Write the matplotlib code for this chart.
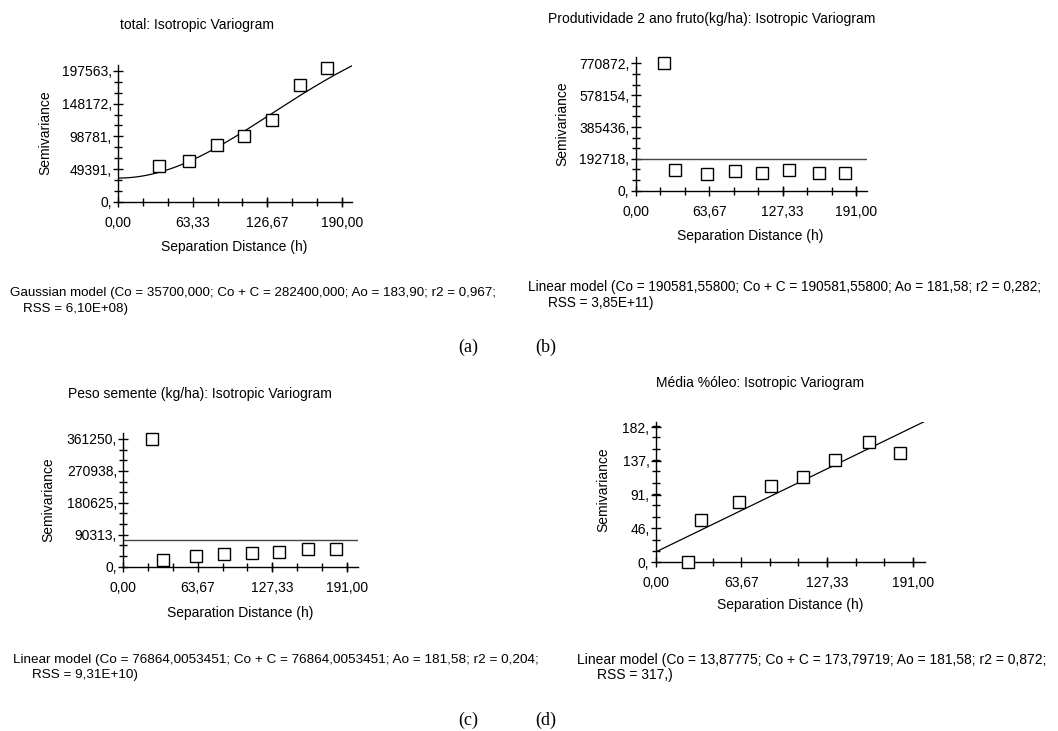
import numpy as np
import matplotlib
matplotlib.use("Agg")
import matplotlib.pyplot as plt
from matplotlib.ticker import FixedLocator, MultipleLocator

plt.rcParams['font.family'] = ['Liberation Sans', 'DejaVu Sans']

# (a) total
a_h = [34.6, 60.2, 84.2, 107.2, 130.3, 154.2, 177.0]
a_g = [54000, 61700, 86400, 99400, 123000, 176600, 202200]
a_yticks = [0, 49391, 98781, 148172, 197563]
a_xticks = [0, 63.33, 126.67, 190.0]
a_co, a_sill, a_range = 35700.0, 282400.0, 183.90

# (b) Produtividade
b_h = [24.6, 34.4, 62.1, 86.4, 109.8, 133.2, 158.6, 181.8]
b_g = [770872, 125100, 100900, 117000, 109000, 125100, 109000, 109000]
b_yticks = [0, 192718, 385436, 578154, 770872]
b_co = 190581.558

# (c) Peso semente
c_h = [24.2, 33.9, 61.9, 86.1, 110.0, 132.8, 158.2, 181.9]
c_g = [361250, 18900, 31100, 34900, 37700, 41500, 50900, 49000]
c_yticks = [0, 90313, 180625, 270938, 361250]
c_co = 76864.0053451

# (d) Media % oleo
d_h = [24.0, 33.9, 61.9, 86.0, 109.2, 133.3, 158.5, 181.6]
d_g = [0.9, 57.5, 81.3, 102.9, 115.5, 138.0, 162.2, 147.4]
d_yticks = [0, 46, 91, 137, 182]
d_co, d_sill, d_range = 13.87775, 173.79719, 181.58

bcd_xticks = [0, 63.67, 127.33, 191.0]

W, H = 1058, 731
FS = 10
fig = plt.figure(figsize=(W / 100, H / 100), dpi=100)


def ftext(x, y, s, **kw):
    # place text by pixel position (from top-left)
    kw.setdefault('fontsize', FS)
    kw.setdefault('va', 'center')
    return fig.text(x / W, 1 - y / H, s, **kw)


def px_axes(left, right, top, bottom):
    return fig.add_axes([left / W, 1 - bottom / H, (right - left) / W, (bottom - top) / H])


def style(ax, xticks, yticks, xmax, ymax):
    ax.set_xlim(0, xmax)
    ax.set_ylim(0, ymax)
    for s in ['top', 'right']:
        ax.spines[s].set_visible(False)
    for s in ['left', 'bottom']:
        ax.spines[s].set_linewidth(1.0)
    ax.xaxis.set_major_locator(FixedLocator(xticks))
    ax.xaxis.set_minor_locator(MultipleLocator(xticks[1] / 3))
    ax.yaxis.set_major_locator(FixedLocator(yticks))
    ax.yaxis.set_minor_locator(MultipleLocator(yticks[1] / 3))
    ax.set_xticklabels([('%.2f' % v).replace('.', ',') for v in xticks], fontsize=FS)
    ax.set_yticklabels(['%d,' % v for v in yticks], fontsize=FS)
    ax.tick_params(which='both', direction='inout', width=1.0)
    ax.tick_params(which='major', length=7)
    ax.tick_params(which='minor', length=6)
    ax.tick_params(axis='x', which='major', pad=6.5)
    ax.tick_params(axis='y', which='major', pad=1)


def squares(ax, h, g):
    ax.plot(h, g, linestyle='none', marker='s', markersize=8, markerfacecolor='white',
            markeredgecolor='black', markeredgewidth=1.0, clip_on=False, zorder=3)


# panel (a)
ax = px_axes(118, 352, 65, 201.7)
xs = np.linspace(0, 198.5, 200)
ax.plot(xs, a_co + (a_sill - a_co) * (1 - np.exp(-(xs / a_range) ** 2)), color='black', lw=0.9)
squares(ax, a_h, a_g)
style(ax, a_xticks, a_yticks, 198.5, 206630)
ftext(197, 25, 'total: Isotropic Variogram', ha='center')
ftext(45, 133, 'Semivariance', ha='center', rotation=90)
ftext(234, 247, 'Separation Distance (h)', ha='center')

# panel (b)
ax = px_axes(635.7, 866.7, 57.3, 190.7)
ax.axhline(b_co, color='#444444', lw=1.0)
squares(ax, b_h, b_g)
style(ax, bcd_xticks, b_yticks, 200.2, 807200)
ftext(712, 19, 'Produtividade 2 ano fruto(kg/ha): Isotropic Variogram', ha='center')
ftext(562, 124, 'Semivariance', ha='center', rotation=90)
ftext(750, 236, 'Separation Distance (h)', ha='center')

# panel (c)
ax = px_axes(123.3, 357.7, 432.7, 566.7)
ax.axhline(c_co, color='#444444', lw=1.0)
squares(ax, c_h, c_g)
style(ax, bcd_xticks, c_yticks, 200.4, 379000)
ftext(200, 394, 'Peso semente (kg/ha): Isotropic Variogram', ha='center')
ftext(48, 500, 'Semivariance', ha='center', rotation=90)
ftext(240, 613, 'Separation Distance (h)', ha='center')

# panel (d)
ax = px_axes(655.7, 925, 421.7, 562.3)
xs = np.array([0, 200.2])
ax.plot(xs, d_co + (d_sill - d_co) / d_range * xs, color='black', lw=0.9)
squares(ax, d_h, d_g)
style(ax, bcd_xticks, d_yticks, 200.2, 189.6)
ftext(760, 383, 'Média %óleo: Isotropic Variogram', ha='center')
ftext(603, 490, 'Semivariance', ha='center', rotation=90)
ftext(790, 605, 'Separation Distance (h)', ha='center')

# model texts
ftext(10, 293, 'Gaussian model (Co = 35700,000; Co + C = 282400,000; Ao = 183,90; r2 = 0,967;',
      fontsize=9.6)
ftext(23, 309, 'RSS = 6,10E+08)', fontsize=9.6)
ftext(528, 287, 'Linear model (Co = 190581,55800; Co + C = 190581,55800; Ao = 181,58; r2 = 0,282;',
      fontsize=9.8)
ftext(548, 303, 'RSS = 3,85E+11)', fontsize=9.8)
ftext(13, 660, 'Linear model (Co = 76864,0053451; Co + C = 76864,0053451; Ao = 181,58; r2 = 0,204;',
      fontsize=9.7)
ftext(32, 675, 'RSS = 9,31E+10)', fontsize=9.7)
ftext(577, 660, 'Linear model (Co = 13,87775; Co + C = 173,79719; Ao = 181,58; r2 = 0,872;')
ftext(597, 675, 'RSS = 317,)')

# panel captions
cap = dict(fontsize=13, family=['Liberation Serif', 'DejaVu Serif'], ha='center')
ftext(468, 347, '(a)', **cap)
ftext(546, 347, '(b)', **cap)
ftext(468, 720, '(c)', **cap)
ftext(546, 720, '(d)', **cap)

fig.savefig('out.png', dpi=100)
